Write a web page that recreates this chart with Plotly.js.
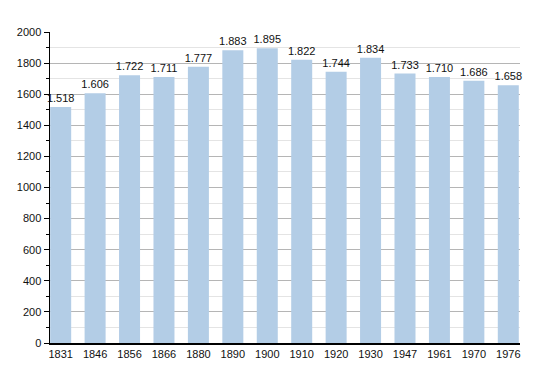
<!DOCTYPE html>
<html><head><meta charset="utf-8">
<script src="https://cdn.plot.ly/plotly-3.0.1.min.js"></script>
<style>html,body{margin:0;padding:0;background:#fff}#c{width:550px;height:373px}</style>
</head><body><div id="c"></div>
<script>
const years = ["1831","1846","1856","1866","1880","1890","1900","1910","1920","1930","1947","1961","1970","1976"];
const population = [1518,1606,1722,1711,1777,1883,1895,1822,1744,1834,1733,1710,1686,1658];

Plotly.newPlot('c', [{
  type: 'bar',
  x: years,
  y: population,
  marker: {color: '#b3cde6'},
  texttemplate: '%{y:,}',
  textposition: 'outside',
  constraintext: 'none',
  textfont: {family: 'Liberation Sans, Arial, sans-serif', size: 11, color: '#111'},
  cliponaxis: false,
  hoverinfo: 'none'
}], {
  width: 550, height: 373,
  margin: {l: 50, r: 30, t: 32, b: 30},
  separators: ',.',
  bargap: 0.39,
  paper_bgcolor: '#fff', plot_bgcolor: '#fff',
  font: {family: 'Liberation Sans, Arial, sans-serif', size: 11, color: '#111'},
  showlegend: false,
  xaxis: {
    type: 'category',
    range: [-0.31, 13.34],
    showline: true, linecolor: '#000', linewidth: 1.5,
    ticks: '', showgrid: false, zeroline: false,
    tickfont: {size: 11}
  },
  yaxis: {
    range: [0, 2000],
    dtick: 200,
    showline: true, linecolor: '#000', linewidth: 1.5,
    ticks: 'outside', ticklen: 5, tickcolor: '#000',
    gridcolor: '#b5b5b5', gridwidth: 1,
    zeroline: false,
    tickfont: {size: 11},
    minor: {dtick: 100, ticks: 'outside', ticklen: 3, tickcolor: '#000', showgrid: true, gridcolor: '#e4e4e4'}
  }
}, {staticPlot: true});
</script></body></html>
